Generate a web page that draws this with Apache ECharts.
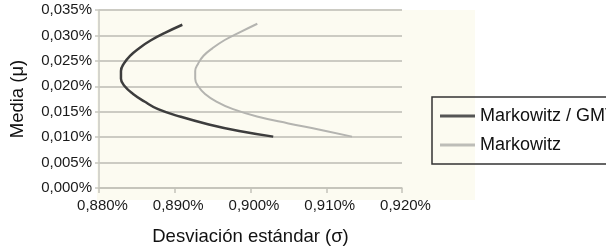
<!DOCTYPE html>
<html>
<head>
<meta charset="utf-8">
<script src="https://cdn.jsdelivr.net/npm/echarts@6/dist/echarts.min.js"></script>
<style>html,body{margin:0;padding:0;background:#fff}#c{width:606px;height:251px}</style>
</head>
<body>
<div id="c"></div>
<script>
// Values in percent
const seriesNames = ['Markowitz / GMV', 'Markowitz'];
const gmvSigma = [0.8910, 0.8887, 0.8868, 0.8853, 0.8841, 0.8833, 0.8829, 0.8829, 0.8834, 0.8845, 0.8860, 0.8878, 0.8908, 0.8945, 0.8985, 0.9030];
const gmvMu    = [0.0321, 0.0305, 0.0290, 0.0275, 0.0260, 0.0245, 0.0230, 0.0215, 0.0200, 0.0185, 0.0170, 0.0155, 0.0140, 0.0125, 0.0112, 0.0101];
const mkSigma  = [0.9009, 0.8987, 0.8966, 0.8950, 0.8938, 0.8931, 0.8927, 0.8927, 0.8931, 0.8940, 0.8955, 0.8977, 0.9010, 0.9050, 0.9090, 0.9134];
const mkMu     = [0.0323, 0.0307, 0.0291, 0.0275, 0.0260, 0.0245, 0.0230, 0.0215, 0.0200, 0.0185, 0.0170, 0.0155, 0.0140, 0.0127, 0.0115, 0.0101];
const xTicks = [0.880, 0.890, 0.900, 0.910, 0.920];
const yTicks = [0.000, 0.005, 0.010, 0.015, 0.020, 0.025, 0.030, 0.035];

const fmt = v => v.toFixed(3).replace('.', ',') + '%';
const pairs = (xs, ys) => xs.map((x, i) => [x, ys[i]]);

const chart = echarts.init(document.getElementById('c'));
const font = 'Liberation Sans, Arial, sans-serif';
chart.setOption({
  animation: false,
  backgroundColor: '#ffffff',
  textStyle: { fontFamily: font },
  grid: [
    { left: 98, right: 204, top: 10, bottom: 56, containLabel: false },
    { left: 97, top: 10, width: 378, height: 190, show: true, backgroundColor: '#fcfbf1', borderWidth: 0, z: -1 }
  ],
  legend: {
    orient: 'vertical',
    left: 432, top: 97,
    padding: [10, 40, 10, 8],
    itemGap: 11,
    itemWidth: 35, itemHeight: 3,
    icon: 'rect',
    borderColor: '#333', borderWidth: 1.5,
    textStyle: { fontSize: 18, color: '#111', fontFamily: font },
    data: seriesNames
  },
  xAxis: [{
    type: 'value', gridIndex: 0,
    min: xTicks[0], max: xTicks[xTicks.length - 1], interval: 0.01,
    name: 'Desviación estándar (σ)', nameLocation: 'middle', nameGap: 39,
    nameTextStyle: { fontSize: 18.5, color: '#111', fontFamily: font },
    axisLine: { show: true, lineStyle: { color: '#c4c3bb', width: 1.5 } },
    axisTick: { show: true, length: 5, lineStyle: { color: '#c4c3bb', width: 1.5 } },
    axisLabel: { fontSize: 15, color: '#1a1a1a', margin: 10, padding: [0, 0, 0, 7], formatter: fmt },
    splitLine: { show: false }
  }, {
    type: 'value', gridIndex: 1, show: false
  }],
  yAxis: [{
    type: 'value', gridIndex: 0,
    min: yTicks[0], max: yTicks[yTicks.length - 1], interval: 0.005,
    name: 'Media (μ)', nameLocation: 'middle', nameGap: 72,
    nameTextStyle: { fontSize: 18.5, color: '#111', fontFamily: font },
    axisLine: { show: true, lineStyle: { color: '#c8c8c0', width: 1.5 } },
    axisTick: { show: true, length: 4, lineStyle: { color: '#c8c8c0', width: 1.5 } },
    axisLabel: { fontSize: 15, color: '#1a1a1a', margin: 7, formatter: fmt },
    splitLine: { show: true, lineStyle: { color: '#cccbc3', width: 2 } }
  }, {
    type: 'value', gridIndex: 1, show: false
  }],
  series: [{
    name: seriesNames[0], type: 'line', xAxisIndex: 0, yAxisIndex: 0,
    data: pairs(gmvSigma, gmvMu), smooth: 0.45, showSymbol: false, symbol: 'none',
    lineStyle: { color: '#3d3d3d', width: 2.5 }, itemStyle: { color: '#555555' }, z: 3
  }, {
    name: seriesNames[1], type: 'line', xAxisIndex: 0, yAxisIndex: 0,
    data: pairs(mkSigma, mkMu), smooth: 0.45, showSymbol: false, symbol: 'none',
    lineStyle: { color: '#b4b4b0', width: 2 }, itemStyle: { color: '#bdbdb8' }, z: 2
  }]
});
</script>
</body>
</html>
